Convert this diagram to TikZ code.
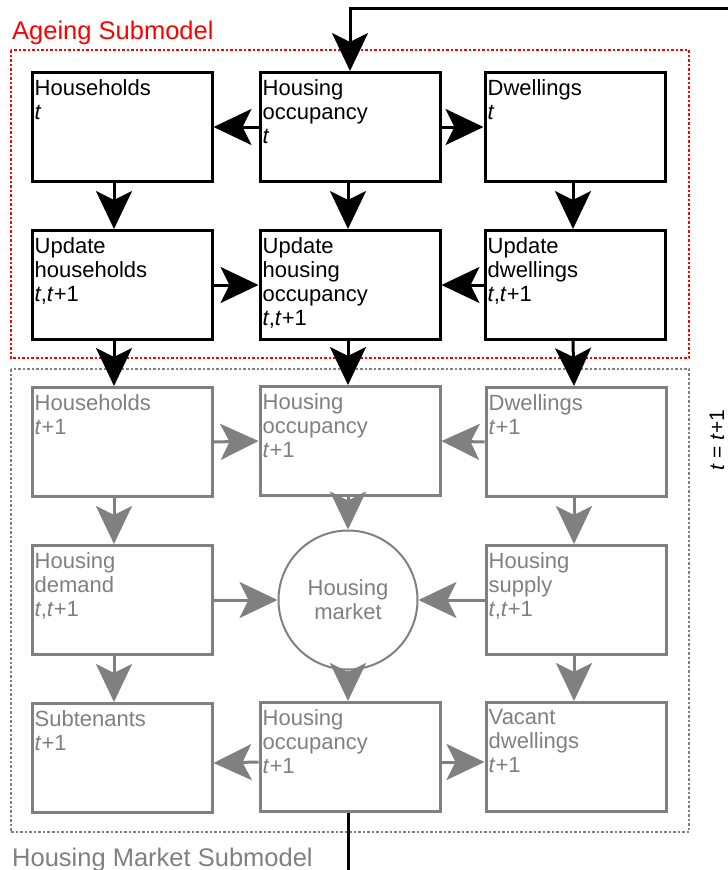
\documentclass[tikz,border=0pt]{standalone}
\usepackage{fontspec}
\setmainfont{Liberation Sans}
\usetikzlibrary{arrows.meta,calc}
\definecolor{grayc}{HTML}{808080}
\definecolor{redc}{HTML}{FF0000}
\begin{document}
\begin{tikzpicture}[x=1pt,y=-1pt,
  box/.style={draw, rectangle, line width=3pt, minimum width=180pt, minimum height=109pt, inner sep=0pt},
  gbox/.style={box, draw=grayc},
  lbl/.style={anchor=north west, inner sep=0pt, align=left, xshift=4pt, yshift=-8pt, font=\fontsize{22}{24}\selectfont},
  btxt/.style={label={[lbl]north west:{#1}}},
  gtxt/.style={label={[lbl,text=grayc]north west:{#1}}},
  arr/.style={line width=3pt, -{Stealth[length=38pt 0,width=36pt 0,inset=9pt]}},
  garr/.style={arr, draw=grayc, fill=grayc},
  reddot/.style={draw=redc, line width=2.5pt, dash pattern=on 2.5pt off 2pt},
  graydot/.style={draw=grayc, line width=2.5pt, dash pattern=on 2.5pt off 2pt},
  title/.style={anchor=base west, inner sep=0pt, font=\fontsize{25.5}{30}\selectfont}
]
\useasboundingbox (0,0) rectangle (728,870);
% frames
\draw[reddot] (11,50) rectangle (689,358);
\draw[graydot] (11,369) rectangle (689,832);
\node[title, text=redc] (ttop) at (12,39) {Ageing Submodel};
\node[title, text=grayc] (tbot) at (12,866) {Housing Market Submodel};
% row 1
\node[box, btxt={Households\\\textit{t}}] (hh1) at (122,127) {};
\node[box, btxt={Housing\\occupancy\\\textit{t}}] (occ1) at (350,127) {};
\node[box, btxt={Dwellings\\\textit{t}}] (dw1) at (575,127) {};
% row 2
\node[box, btxt={Update\\households\\\textit{t},\textit{t}+1}] (uhh) at (122,285) {};
\node[box, btxt={Update\\housing\\occupancy\\\textit{t},\textit{t}+1}] (uocc) at (350,285) {};
\node[box, btxt={Update\\dwellings\\\textit{t},\textit{t}+1}] (udw) at (575,285) {};
% row 3
\node[gbox, gtxt={Households\\\textit{t}+1}] (hh3) at (122,442) {};
\node[gbox, gtxt={Housing\\occupancy\\\textit{t}+1}] (occ3) at (350,441) {};
\node[gbox, gtxt={Dwellings\\\textit{t}+1}] (dw3) at (576,442) {};
% row 4
\node[gbox, gtxt={Housing\\demand\\\textit{t},\textit{t}+1}] (dem) at (122,600) {};
\node[draw=grayc, circle, line width=2pt, minimum size=139pt, inner sep=0pt, text=grayc, align=center, font=\fontsize{22}{24}\selectfont] (mkt) at (348,600) {Housing\\market};
\node[gbox, gtxt={Housing\\supply\\\textit{t},\textit{t}+1}] (sup) at (576,600) {};
% row 5
\node[gbox, gtxt={Subtenants\\\textit{t}+1}] (sub) at (122,758) {};
\node[gbox, gtxt={Housing\\occupancy\\\textit{t}+1}] (occ5) at (350,757) {};
\node[gbox, gtxt={Vacant\\dwellings\\\textit{t}+1}] (vac) at (576,757) {};
% side label
\node[rotate=90, font=\fontsize{21}{24}\selectfont, inner sep=0pt] (tlab) at (717,440) {\textit{t} = \textit{t}+1};
% black arrows
\draw[arr] (occ1.west) -- (hh1.east);
\draw[arr] (occ1.east) -- (dw1.west);
\draw[arr] ([xshift=-8pt]hh1.south) -- ([xshift=-8pt]uhh.north);
\draw[arr] ([xshift=-2pt]occ1.south) -- ([xshift=-2pt]uocc.north);
\draw[arr] ([xshift=-2pt]dw1.south) -- ([xshift=-2pt]udw.north);
\draw[arr] (uhh.east) -- (uocc.west);
\draw[arr] (udw.west) -- (uocc.east);
\draw[arr] ([xshift=-8pt]uhh.south) -- ([xshift=-8pt]hh3.north);
\draw[arr] ([xshift=-2pt]uocc.south) -- ([xshift=-2pt]occ3.north);
\draw[arr] ([xshift=-2pt]udw.south) -- ([xshift=-2pt]dw3.north);
% gray arrows
\draw[garr] (hh3.east) -- (occ3.west);
\draw[garr] (dw3.west) -- (occ3.east);
\draw[garr] ([xshift=-8pt]hh3.south) -- ([xshift=-8pt]dem.north);
\draw[garr] (occ3.south -| mkt.north) -- (mkt.north);
\draw[garr] ([xshift=-2pt]dw3.south) -- ([xshift=-2pt]sup.north);
\draw[garr] (dem.east) -- (mkt.west);
\draw[garr] (sup.west) -- (mkt.east);
\draw[garr] ([xshift=-8pt]dem.south) -- ([xshift=-8pt]sub.north);
\draw[garr] (mkt.south) -- (occ5.north -| mkt.south);
\draw[garr] ([xshift=-2pt]sup.south) -- ([xshift=-2pt]vac.north);
\draw[garr] ([yshift=-5pt]occ5.west) -- ([yshift=-5pt]sub.east);
\draw[garr] ([yshift=-5pt]occ5.east) -- ([yshift=-5pt]vac.west);
% feedback loop
\coordinate (fbR) at (728,8);
\coordinate (fbB) at (348,870);
\draw[arr] (fbR) -- (occ1.north |- fbR) -- (occ1.north);
\draw[line width=3pt] (occ5.south -| fbB) -- (fbB);
\end{tikzpicture}
\end{document}
